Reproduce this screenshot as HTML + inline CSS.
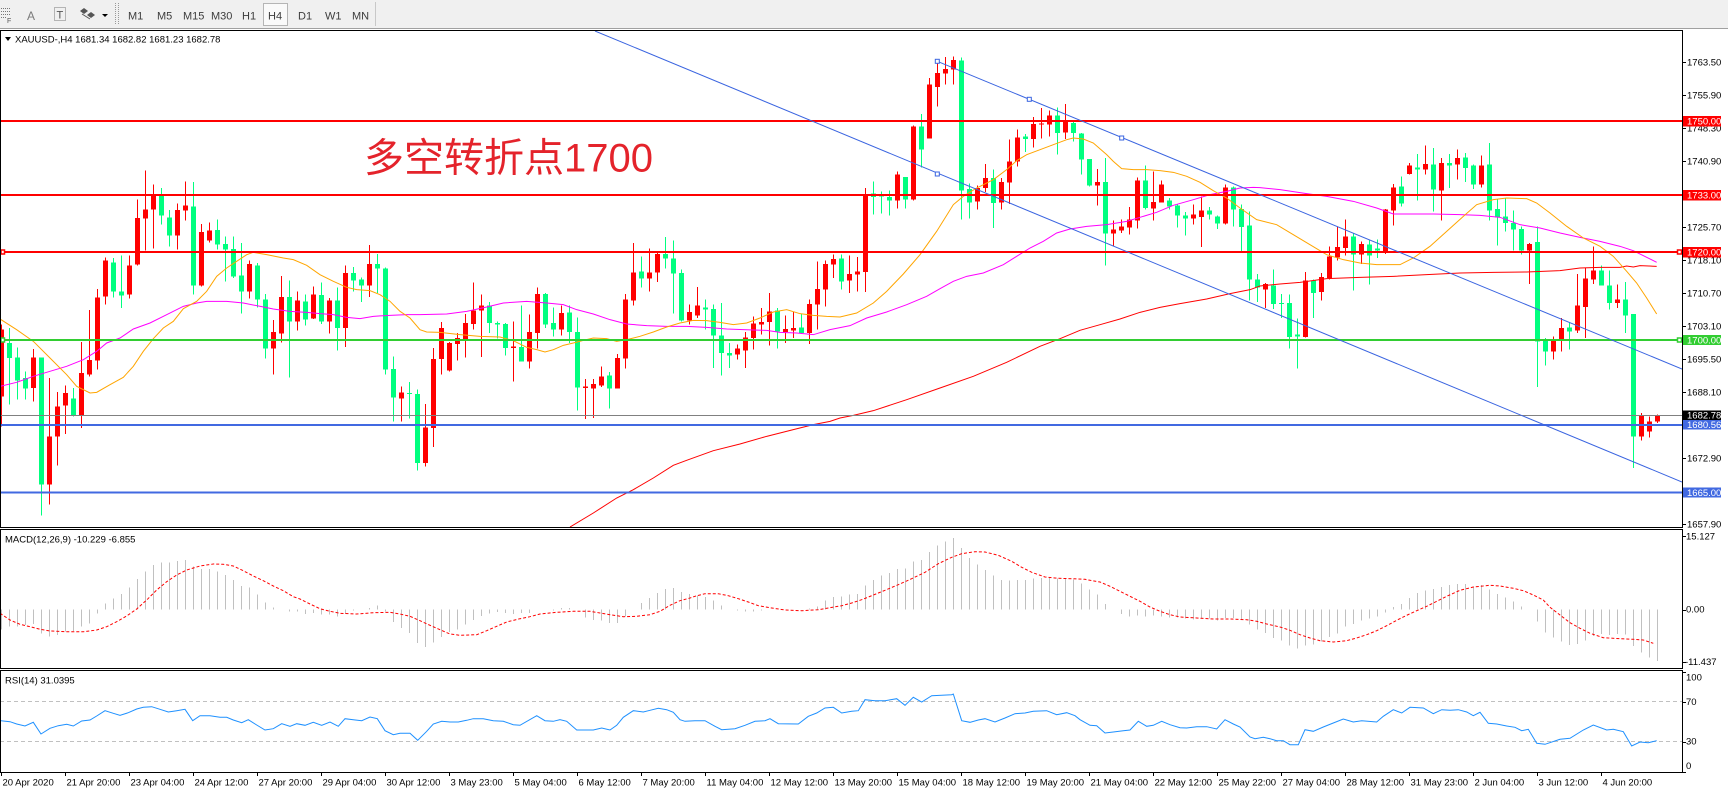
<!DOCTYPE html>
<html><head><meta charset="utf-8">
<style>
html,body{margin:0;padding:0;width:1728px;height:792px;overflow:hidden;background:#fff;}
svg{display:block;}
text{font-family:"Liberation Sans","Noto Sans CJK SC",sans-serif;}
.ax{font-size:9.5px;fill:#000;}
.bx{font-size:9.5px;fill:#fff;}
.tf{font-size:11px;fill:#3c3c3c;}
</style></head><body>
<svg id="s" width="1728" height="792" viewBox="0 0 1728 792" xmlns="http://www.w3.org/2000/svg">
<defs>
<clipPath id="cm"><rect x="1" y="31" width="1681" height="496"/></clipPath>
<clipPath id="cd"><rect x="1" y="530" width="1681" height="138"/></clipPath>
<clipPath id="cr"><rect x="1" y="671" width="1681" height="101"/></clipPath>
</defs>
<rect x="0" y="0" width="1728" height="792" fill="#fff"/>
<!-- toolbar -->
<rect x="0" y="0" width="1728" height="28" fill="#f0f0f0"/>
<line x1="0" y1="28.5" x2="1728" y2="28.5" stroke="#a0a0a0"/>
<g stroke="#777" stroke-width="1" stroke-dasharray="1,1">
<line x1="1" y1="8.5" x2="11" y2="8.5"/><line x1="1" y1="11.5" x2="11" y2="11.5"/><line x1="1" y1="14.5" x2="11" y2="14.5"/><line x1="1" y1="17.5" x2="6" y2="17.5"/>
<rect x="54.5" y="7.5" width="11" height="13" fill="none"/>
</g>
<text x="7" y="23" style="font-size:7px;fill:#555">F</text>
<text x="27" y="20" style="font-size:12px;fill:#7a7a7a">A</text>
<text x="56.5" y="18.5" style="font-size:11px;fill:#555">T</text>
<polygon points="84,8 88,11 84,14 80,11" fill="#555"/>
<polygon points="91,12 95,15 91,18 87,15" fill="#555"/>
<line x1="82" y1="14" x2="90" y2="19" stroke="#555"/>
<polygon points="102,14 108,14 105,17" fill="#000"/>
<g stroke="#999" stroke-dasharray="1,1"><line x1="115.5" y1="3" x2="115.5" y2="25"/><line x1="118.5" y1="3" x2="118.5" y2="25"/></g>
<rect x="263.5" y="3.5" width="24" height="22" fill="#fafafa" stroke="#b5b5b5"/>
<text class="tf" x="128" y="19.5">M1</text>
<text class="tf" x="157" y="19.5">M5</text>
<text class="tf" x="183" y="19.5">M15</text>
<text class="tf" x="211" y="19.5">M30</text>
<text class="tf" x="242" y="19.5">H1</text>
<text class="tf" x="268" y="19.5">H4</text>
<text class="tf" x="298" y="19.5">D1</text>
<text class="tf" x="325" y="19.5">W1</text>
<text class="tf" x="352" y="19.5">MN</text>
<line x1="375.5" y1="2" x2="375.5" y2="26" stroke="#c8c8c8"/>

<!-- chart groups -->
<g id="gm" clip-path="url(#cm)"></g>
<g id="gd" clip-path="url(#cd)"></g>
<g id="gr" clip-path="url(#cr)"></g>

<!-- frames -->
<g fill="none" stroke="#000" stroke-width="1" shape-rendering="crispEdges">
<rect x="0.5" y="30.5" width="1682" height="497"/>
<rect x="0.5" y="529.5" width="1682" height="139"/>
<rect x="0.5" y="670.5" width="1682" height="102"/>
</g>

<!-- title -->
<polygon points="5,37 11,37 8,41" fill="#000"/>
<text class="ax" x="15" y="42.5">XAUUSD-,H4  1681.34 1682.82 1681.23 1682.78</text>
<text class="ax" x="5" y="542.5">MACD(12,26,9) -10.229 -6.855</text>
<text class="ax" x="5" y="683.5">RSI(14) 31.0395</text>

<!-- big label -->
<text x="364" y="171.5" style="font-size:40px;fill:#e4232b;font-family:'Liberation Sans','Noto Sans CJK SC',sans-serif;">多空转折点1700</text>

<!-- price axis -->
<g id="ticks" stroke="#000" stroke-width="1"></g>
<text class="ax" x="1687" y="65.6">1763.50</text>
<text class="ax" x="1687" y="98.6">1755.90</text>
<text class="ax" x="1687" y="131.3">1748.30</text>
<text class="ax" x="1687" y="164.6">1740.90</text>
<text class="ax" x="1687" y="230.6">1725.70</text>
<text class="ax" x="1687" y="263.6">1718.10</text>
<text class="ax" x="1687" y="296.6">1710.70</text>
<text class="ax" x="1687" y="329.3">1703.10</text>
<text class="ax" x="1687" y="362.6">1695.50</text>
<text class="ax" x="1687" y="395.6">1688.10</text>
<text class="ax" x="1687" y="461.6">1672.90</text>
<text class="ax" x="1687" y="527.6">1657.90</text>

<rect x="1683" y="116" width="38" height="10.5" fill="#ff0000"/><text class="bx" x="1687" y="124.6">1750.00</text>
<rect x="1683" y="190" width="38" height="10.5" fill="#ff0000"/><text class="bx" x="1687" y="198.6">1733.00</text>
<rect x="1683" y="247" width="38" height="10.5" fill="#ff0000"/><text class="bx" x="1687" y="255.6">1720.00</text>
<rect x="1683" y="335" width="38" height="10" fill="#32cd32"/><text class="bx" x="1687" y="343.5">1700.00</text>
<rect x="1683" y="410.5" width="38" height="9.5" fill="#000"/><text class="bx" x="1687" y="418.6">1682.78</text>
<rect x="1683" y="420" width="38" height="9.5" fill="#4169e1"/><text class="bx" x="1687" y="428.2">1680.56</text>
<rect x="1683" y="487.5" width="38" height="10" fill="#4169e1"/><text class="bx" x="1687" y="495.8">1665.00</text>

<text class="ax" x="1686" y="539.5">15.127</text>
<text class="ax" x="1686" y="612.5">0.00</text>
<text class="ax" x="1685" y="665">-11.437</text>
<text class="ax" x="1686" y="680.5">100</text>
<text class="ax" x="1686" y="705">70</text>
<text class="ax" x="1686" y="744.5">30</text>
<text class="ax" x="1686" y="769">0</text>

<!-- time axis -->
<g id="tt" stroke="#000" stroke-width="1"></g>
<g class="ax">
<text class="ax" x="2.5" y="785.5">20 Apr 2020</text>
<text class="ax" x="66.5" y="785.5">21 Apr 20:00</text>
<text class="ax" x="130.5" y="785.5">23 Apr 04:00</text>
<text class="ax" x="194.5" y="785.5">24 Apr 12:00</text>
<text class="ax" x="258.5" y="785.5">27 Apr 20:00</text>
<text class="ax" x="322.5" y="785.5">29 Apr 04:00</text>
<text class="ax" x="386.5" y="785.5">30 Apr 12:00</text>
<text class="ax" x="450.5" y="785.5">3 May 23:00</text>
<text class="ax" x="514.5" y="785.5">5 May 04:00</text>
<text class="ax" x="578.5" y="785.5">6 May 12:00</text>
<text class="ax" x="642.5" y="785.5">7 May 20:00</text>
<text class="ax" x="706.5" y="785.5">11 May 04:00</text>
<text class="ax" x="770.5" y="785.5">12 May 12:00</text>
<text class="ax" x="834.5" y="785.5">13 May 20:00</text>
<text class="ax" x="898.5" y="785.5">15 May 04:00</text>
<text class="ax" x="962.5" y="785.5">18 May 12:00</text>
<text class="ax" x="1026.5" y="785.5">19 May 20:00</text>
<text class="ax" x="1090.5" y="785.5">21 May 04:00</text>
<text class="ax" x="1154.5" y="785.5">22 May 12:00</text>
<text class="ax" x="1218.5" y="785.5">25 May 22:00</text>
<text class="ax" x="1282.5" y="785.5">27 May 04:00</text>
<text class="ax" x="1346.5" y="785.5">28 May 12:00</text>
<text class="ax" x="1410.5" y="785.5">31 May 23:00</text>
<text class="ax" x="1474.5" y="785.5">2 Jun 04:00</text>
<text class="ax" x="1538.5" y="785.5">3 Jun 12:00</text>
<text class="ax" x="1602.5" y="785.5">4 Jun 20:00</text>
</g>
</svg>
<script>
(function(){
var NS='http://www.w3.org/2000/svg';
function el(p,t,a){var e=document.createElementNS(NS,t);for(var k in a)e.setAttribute(k,a[k]);p.appendChild(e);return e;}
var gm=document.getElementById('gm'),gd=document.getElementById('gd'),gr=document.getElementById('gr');
function poly(p,pts,color,w,dash){var a={points:pts.map(function(q){return q[0].toFixed(2)+','+q[1].toFixed(2);}).join(' '),fill:'none',stroke:color,'stroke-width':w||1};if(dash)a['stroke-dasharray']=dash;return el(p,'polyline',a);}
function zp(segs){var o=[];segs.forEach(function(s){s[1].forEach(function(q){o.push([s[0]+q[0]/3,28+q[1]/3]);});});return o;}

// MAs
var orange=zp([[0,[[0,873],[50,905],[100,940],[150,990],[200,1040],[230,1075],[270,1095],[290,1093],[330,1070],[370,1048],[400,1015],[430,970],[460,932],[490,900],[520,880],[550,842],[590,820],[620,790],[650,745],[680,720],[710,700],[740,680],[760,673],[800,680],[850,690],[880,695],[920,712],[960,740],[1000,760],[1040,778],[1070,785],[1110,788],[1140,800],[1170,820],[1200,850],[1230,870],[1260,905]]],
[420,[[20,912],[60,913],[120,920],[180,925],[240,927],[280,938],[320,958],[350,965],[375,972],[400,965],[430,952],[460,945],[490,937],[520,930],[560,932],[590,940],[620,935],[660,925],[700,912],[740,897],[780,885],[820,877],[860,878],[900,883],[940,890],[980,885],[1020,870],[1060,852],[1100,845],[1140,857],[1180,862],[1220,865],[1260,867]]],
[840,[[50,855],[100,825],[140,790],[190,738],[240,680],[290,610],[340,530],[370,505],[410,480],[460,455],[500,425],[530,398],[560,380],[600,365],[640,350],[680,335],[700,330],[730,333],[760,345],[800,380],[820,400],[845,422],[880,425],[920,425],[960,428],[1000,433],[1040,445],[1080,463],[1120,488],[1160,510],[1200,540],[1250,575]]],
[1260,[[50,590],[100,620],[150,650],[200,680],[250,695],[300,705],[350,710],[420,710],[460,690],[510,655],[560,610],[610,565],[650,530],[700,515],[740,510],[800,512],[830,525],[870,555],[920,595],[970,630],[1020,655],[1060,685],[1100,730],[1130,765],[1160,810],[1190,858]]]]);
var magenta=zp([[0,[[0,1075],[50,1063],[100,1045],[150,1030],[200,1015],[250,995],[290,970],[320,945],[360,930],[400,903],[450,885],[500,860],[550,835],[590,825],[620,820],[680,820],[730,825],[770,833],[820,843],[870,850],[920,853],[960,857],[1000,860],[1040,868],[1080,872],[1120,865],[1170,862],[1220,860],[1260,860]]],
[420,[[80,858],[140,850],[200,837],[250,825],[320,820],[380,825],[430,830],[470,845],[520,858],[570,875],[620,888],[680,893],[740,895],[800,895],[860,898],[920,903],[1000,906],[1040,907],[1080,913],[1130,915],[1180,920],[1230,905],[1260,899]]],
[840,[[30,893],[80,870],[140,852],[200,830],[260,805],[300,782],[340,760],[380,745],[430,735],[490,710],[530,685],[570,660],[610,640],[650,615],[690,603],[740,595],[800,590],[860,580],[900,568],[950,553],[1000,532],[1060,515],[1110,500],[1160,490],[1200,480],[1240,478],[1260,479]]],
[1260,[[60,485],[140,497],[200,505],[280,520],[350,540],[400,558],[460,558],[520,558],[600,560],[660,562],[720,568],[780,590],[840,600],[900,615],[960,628],[1020,640],[1080,655],[1120,668],[1160,688],[1190,703]]]]);
var redma=zp([[420,[[450,1497],[520,1455],[590,1410],[640,1385],[700,1350],[760,1312],[800,1297],[880,1268],[960,1248],[1040,1225],[1120,1205],[1180,1190],[1230,1180],[1260,1170]]],
[840,[[40,1162],[100,1148],[200,1115],[300,1080],[400,1045],[500,1003],[600,955],[660,932],[720,907],[780,890],[840,873],[900,853],[960,838],[1020,827],[1100,813],[1170,797],[1230,785],[1260,774]]],
[1260,[[60,768],[120,763],[200,752],[300,748],[400,745],[500,740],[600,735],[700,733],[800,732],[900,728],[960,720],[1020,718],[1080,718],[1100,714],[1120,717],[1140,713],[1190,715]]]]);

// candles
var C="r 890 905 1105 1195|g 900 945 990 1130|g 958 988 1058 1115|g 1030 1050 1082 1115|r 963 988 1080 1120|g 988 988 1370 1462|r 1050 1225 1370 1430|r 1092 1135 1225 1312|r 1072 1095 1133 1218|g 1080 1112 1162 1165|r 942 1035 1162 1200|r 846 996 1040 1045|r 783 808 998 1025|r 688 697 806 830|g 690 703 790 808|g 682 790 802 840|r 682 712 800 812|r 515 570 710 712|r 427 544 572 668|r 470 500 545 662|g 480 503 562 590|g 546 568 623 656|r 527 546 622 664|r 460 532 548 578|g 462 535 773 800|r 588 612 773 776|r 584 607 638 643|g 574 606 650 665|g 625 648 665 760|g 625 663 745 750|g 645 742 790 857|r 698 708 790 812|g 705 712 815 838|g 798 815 962 992|r 876 912 962 1040|r 744 807 917 943|g 757 807 880 1048|r 790 817 880 907|g 800 820 875 893|r 775 800 872 873|g 763 801 880 888|r 810 817 880 917|g 778 817 900 967|r 712 735 900 957|g 717 735 758 790|g 748 755 773 822|r 651 708 773 807|g 678 708 722 795|g 718 722 1025 1040|g 985 1023 1108 1180|r 1075 1093 1112 1180|g 1062 1095 1098 1172|g 1085 1098 1305 1328|r 1128 1198 1305 1316|r 960 993 1200 1257|r 882 900 993 1040|r 942 945 1027 1030|r 915 930 948 998|r 858 885 935 988|r 763 847 888 905|r 800 832 848 987|g 822 833 885 915|g 880 885 890 932|g 885 888 960 983|r 880 956 960 1060|g 832 957 1000 1000|r 860 912 1000 1022|r 778 798 915 962|g 795 798 890 900|g 838 885 905 925|r 832 855 905 922|g 832 853 912 945|g 868 912 1078 1147|r 1053 1075 1080 1173|r 1053 1068 1082 1170|r 1015 1045 1073 1077|g 1032 1042 1082 1142|r 978 990 1082 1082|r 798 815 992 1022|r 645 733 817 832|g 685 730 752 778|r 662 733 752 790|r 675 678 733 762|g 627 678 692 722|g 638 692 737 857|g 725 735 877 880|r 830 852 878 890|r 777 833 862 870|g 815 838 845 905|g 830 843 922 1020|g 825 922 975 1042|g 945 975 983 1020|r 950 962 980 995|r 912 928 968 1020|r 865 887 930 965|r 840 882 890 920|r 795 850 882 952|g 840 848 910 962|r 862 903 912 945|r 850 900 908 930|g 858 898 915 918|r 815 828 915 948|r 700 783 830 905|r 697 708 785 835|r 680 693 710 750|g 680 692 760 785|r 682 738 758 795|r 687 730 740 790|r 480 500 732 792|g 460 497 507 560|g 490 502 506 557|g 487 507 518 563|r 430 440 518 542|g 447 447 515 542|r 292 296 515 518|g 258 296 365 418|r 150 170 332 332|r 100 135 177 236|r 87 123 137 170|r 85 96 125 170|g 88 98 488 575|g 467 483 523 572|r 473 480 520 545|r 408 450 480 492|g 425 450 525 600|r 450 462 523 545|r 335 400 463 528|r 305 328 400 415|g 318 326 333 372|r 267 288 333 358|r 240 287 289 332|r 248 262 290 325|g 238 262 315 380|r 228 278 313 333|g 280 285 315 340|g 315 317 395 440|g 393 393 473 475|r 423 462 472 533|g 390 462 617 713|r 577 605 617 655|r 575 595 608 615|r 537 575 598 620|r 448 458 577 602|g 413 458 540 545|r 430 522 542 578|r 457 470 523 523|g 510 518 535 545|g 530 533 563 598|g 552 563 572 623|r 530 560 572 590|r 505 548 567 657|g 537 548 560 575|g 562 565 587 603|r 470 478 587 590|g 475 478 545 595|g 530 543 597 670|g 550 592 755 818|g 738 755 778 822|r 765 768 785 840|g 725 772 828 843|g 798 825 828 870|g 800 825 927 962|g 872 920 925 1022|r 732 757 927 928|g 755 757 795 870|r 735 747 792 818|r 655 686 750 755|r 595 657 688 698|r 575 625 660 683|g 615 625 680 788|r 640 648 680 708|g 635 650 682 770|g 635 662 667 690|r 543 545 670 678|r 468 478 548 593|g 445 475 527 535|r 405 413 438 440|g 378 418 425 518|r 353 408 425 440|g 360 410 485 550|r 390 405 488 578|g 378 405 412 480|r 365 390 410 455|g 375 388 420 462|g 410 413 470 483|r 383 413 470 478|g 345 410 548 578|g 515 543 568 652|g 512 565 585 610|g 548 585 605 668|g 595 603 668 680|r 645 648 668 768|g 595 642 940 1077|g 930 935 970 1012|r 925 937 970 995|r 870 900 938 970|g 885 898 910 965|r 738 833 908 915|r 720 752 837 930|r 655 728 755 768|g 713 727 772 773|g 727 772 825 845|r 770 815 825 840|g 762 815 862 915|g 858 858 1225 1320|r 1155 1163 1225 1237|r 1165 1180 1210 1228|r 1160 1163 1180 1185";
var cg=el(gm,'g',{'shape-rendering':'crispEdges'});
C.split('|').forEach(function(s,i){
  var p=s.trim().split(/\s+/);var col=p[0]=='r'?'#ff0000':'#00ff7f';
  var Y=function(v){return 28+parseFloat(v)/3;};
  var x=1+8*i,h=Y(p[1]),t=Y(p[2]),b=Y(p[3]),l=Y(p[4]);
  el(cg,'rect',{x:x,y:h.toFixed(2),width:1,height:Math.max(l-h,1).toFixed(2),fill:col});
  if(b-t<1)b=t+1;
  el(cg,'rect',{x:x-2,y:t.toFixed(2),width:5,height:(b-t).toFixed(2),fill:col});
});

poly(gm,redma,'#ff0000',1);
poly(gm,magenta,'#ff00ff',1);
poly(gm,orange,'#ffa500',1);

// horizontal lines
var hl=el(gm,'g',{'shape-rendering':'crispEdges'});
el(hl,'rect',{x:0,y:414.8,width:1682,height:1,fill:'#808080'});
[[121,'#ff0000'],[195,'#ff0000'],[252,'#ff0000'],[340,'#32cd32'],[425,'#4169e1'],[492.7,'#4169e1']].forEach(function(a){
  el(hl,'rect',{x:0,y:a[0]-1,width:1682,height:2,fill:a[1]});
});
// trendlines
el(gm,'line',{x1:595,y1:31,x2:1682,y2:482,stroke:'#3a64e0','stroke-width':1});
el(gm,'line',{x1:937.3,y1:61.3,x2:1682,y2:369,stroke:'#3a64e0','stroke-width':1});
[[937.3,61.3],[1029.3,99.3],[1121.7,138],[937.3,174]].forEach(function(q){
  el(gm,'rect',{x:q[0]-2,y:q[1]-2,width:4,height:4,fill:'#fff',stroke:'#3a64e0','stroke-width':1});
});
// end markers
[[252,'#ff0000'],[340,'#32cd32']].forEach(function(a){
  el(gm,'rect',{x:1677.5,y:a[0]-2,width:4,height:4,fill:'#fff',stroke:a[1],'stroke-width':1.5});
  el(gm,'rect',{x:1,y:a[0]-2,width:3.5,height:4,fill:'#fff',stroke:a[1],'stroke-width':1.5});
});

// MACD
var M=[629.3,626.7,626.7,625,624,633.3,636.7,635,631.7,631,626.7,623.3,613.3,603.3,598.3,594,587.7,579,571.7,565,562.3,562.3,561,560,566.7,569,569,571.7,575,580,586,587.3,594.3,602.7,607.3,609,611.7,
611.3,614,613,614.7,614.7,616.3,614,610.7,609,608,605.7,611.3,622,628,633,643,647,642.3,637,632,629.7,624.7,620,616,613.7,612,613,614,613,613,609,609.7,610.7,608,608,609.7,617.3,620,620.7,623,623,616.3,609,603,598,593,589,588,592,594,
595.7,597,600.7,605.7,609.7,610.7,611.3,611.3,610.3,609.7,609.7,609.7,609.7,609,608.7,606.3,600.7,597,596.3,594.7,594,585.7,580,575.7,573,569,568.7,561.7,560,552,545.7,541.3,538,548,558,564.7,570,575.7,580,580.7,580,580,578.7,578,578,578.7,578.7,579.7,583.7,
589.7,594.7,604,609.7,614,616.7,615.3,616.7,615.3,616.3,617.3,617.3,618.7,619.7,618,618.7,620.7,618,618,619.7,624.7,629.7,633,638,640.7,645.7,648.7,645.7,644.7,641.3,637,633.3,626.7,624,620.7,618.7,616.7,612.7,607,604,598,593,590.3,589,587,585,584,584,586.3,
585,589.3,594,597.7,601.7,606.7,609,621.7,632.7,637.7,641.7,645,644,640.7,636,634,635,634,634.3,646,652.7,657.7,661];
var y0=609.5;var mg=el(gd,'g',{'shape-rendering':'crispEdges'});
M.forEach(function(v,i){var x=1+8*i;if(Math.abs(v-y0)<0.7)return;el(mg,'rect',{x:x,y:Math.min(v,y0).toFixed(2),width:1,height:Math.abs(v-y0).toFixed(2),fill:'#c0c0c0'});});
var SIG=[[0,613.3],[10,620],[20,624.3],[30,626.7],[40,629.3],[50,631],[66.7,631.7],[83.3,631.7],[96.7,630],[106.7,626.7],[116.7,621.7],[126.7,616],[136.7,609],[146.7,600],[156.7,590],[166.7,581.7],[176.7,575],[186.7,570],[200,566],[213.3,564],[223.3,564.3],[233.3,566],[243.3,570.7],[253.3,576],[263.3,580.7],[273.3,586],[283.3,590.7],[293.3,596.7],[300,599],[310,604],[320,608.7],[330,611.3],[340,613.3],[356.7,614],[373.3,612.7],[390,612.3],[400,614],[410,616.3],[420,620.7],[430,625.3],[440,629.7],[450,634],[460,635.3],[476.7,634.7],[486.7,630.7],[496.7,626.3],[506.7,622],[520,618.7],[530,616.7],[540,614],[556.7,612.3],[573.3,611.3],[590,611.3],[600,613],[610,614.7],[623.3,616.7],[636.7,616.3],[650,614.7],[660,611.3],[670,605.3],[680,600.7],[690,598],[695,596.3],[705,593.7],[718.3,593.7],[728.3,595.7],[738.3,598.7],[748.3,602],[758.3,605.7],[771.7,608],[785,610],[801.7,610.7],[818.3,609.7],[828.3,608],[841.7,605.7],[851.7,603],[861.7,599.7],[871.7,595.7],[885,590.3],[898.3,584.7],[911.7,578.7],[925,572.3],[938.3,563.7],[951.7,557.3],[961.7,553.7],[975,551.7],[985,552],[998.3,555.3],[1011.7,561.3],[1021.7,567.3],[1031.7,572.3],[1045,577],[1058.3,578.3],[1071.7,578.7],[1085,579.3],[1090,580.3],[1100,582],[1110,586.3],[1120,591.3],[1130,596.3],[1140,601.3],[1150,607],[1160,611.3],[1170,614.7],[1180,617],[1196.7,618],[1213.3,619],[1230,619],[1246.7,619.7],[1256.7,621.3],[1266.7,624],[1280,627],[1290,630.3],[1300,634.7],[1310,638],[1320,640.7],[1333.3,642],[1346.7,640.7],[1356.7,638],[1366.7,634.7],[1376.7,630.7],[1386.7,625.7],[1396.7,620.3],[1406.7,615.3],[1416.7,610.7],[1426.7,606.3],[1436.7,601.3],[1446.7,596.3],[1460,590.3],[1473.3,587],[1490,585.3],[1500,586],[1513.3,588.3],[1523.3,590.7],[1533.3,595],[1543.3,600],[1550,607.3],[1560,615],[1570,622.7],[1580,628.3],[1590,633.3],[1603.3,637.7],[1620,638.7],[1633.3,639.3],[1643.3,640],[1653.3,643.3]];
poly(gd,SIG,'#ff0000',1,'3,2');

// RSI
var rg=el(gr,'g',{'shape-rendering':'crispEdges'});
el(rg,'line',{x1:0,y1:701.5,x2:1682,y2:701.5,stroke:'#c0c0c0','stroke-dasharray':'4,3'});
el(rg,'line',{x1:0,y1:741.5,x2:1682,y2:741.5,stroke:'#c0c0c0','stroke-dasharray':'4,3'});
var R=[[0,720.7],[10,721.7],[16.7,724],[25,726],[33.3,722.3],[41,734],[50,728.3],[58.3,725.7],[66.7,724.3],[73.3,726],[81.7,721],[90,720],[96.7,716],[105,710.7],[113.3,713.3],[120,715.3],[128.3,712.7],[136.7,709],[143.3,707.3],[151.7,706.7],[160,709.3],[168.3,712],[176.7,710.7],[185,709.3],[192.7,720.7],[200,715.7],[210,715.7],[220,717.3],[226.7,717.3],[233.3,720],[241.7,722.7],[248.3,719.7],[256.7,725],[265,730],[273.3,728.7],[281.7,723.7],[290,726.3],[296.7,723.7],[305,725.3],[313.3,722.3],[321.7,725.3],[330,722],[338.3,726.3],[345,718.7],[353.3,719.7],[361.7,720.7],[370,717],[377.3,718.7],[385,730.7],[393.3,734.7],[400,733.3],[410,733.3],[417.7,740.3],[426.7,731.3],[433.3,724],[441.7,721.3],[450,722],[458.3,722],[466.7,720.3],[473.3,718.7],[483.3,718.7],[493.3,720.7],[503.3,721.3],[513.3,724.7],[520,725.3],[536.7,715.7],[545,720.7],[553.3,721.3],[560,719.7],[566.7,721.3],[576.7,730],[593.3,730],[601.7,728],[610,730],[616.7,725.3],[623.3,717.3],[633.3,710.7],[643.3,712],[650,710.3],[658.3,708.3],[666.7,709.7],[673.3,712.3],[680,719.7],[685,721.3],[695,720.7],[705,720.7],[715,726.3],[721.7,729.7],[735,728.7],[745,725.3],[755,721.3],[765,720.7],[770,718.7],[778.3,723.7],[798.3,724],[808.3,716.3],[816.7,713],[825,708],[833.3,707.3],[841.7,713],[851.7,711.3],[858.3,710.7],[865,699.7],[875,700.7],[885,700.7],[896.7,698.7],[905,705.3],[913.3,697.3],[921.7,702],[931.7,695.7],[951.7,694.7],[953.3,694],[961.7,720.7],[970,722.3],[978.3,720],[985,718.7],[995,722],[1005,718],[1015,713.7],[1025,713],[1033.3,711.3],[1046.7,710.7],[1056.7,714.7],[1066.7,712.7],[1075,715.7],[1080,719.7],[1090,725.3],[1096.7,725.7],[1105,733],[1113.3,732],[1123.3,730.7],[1130,730],[1138.3,721.3],[1146.7,726.3],[1153.3,725.3],[1161.7,721.3],[1170,724.7],[1180,727.7],[1186.7,728],[1196.7,726.7],[1206.7,726.7],[1216.7,729],[1225,719.7],[1233.3,724],[1240,727],[1250,737],[1255,738.7],[1263.3,737.3],[1270,738.7],[1276.7,740.7],[1283.3,740.7],[1290,744.7],[1298.3,744.7],[1305,729.7],[1313.3,731.3],[1323.3,727],[1333.3,723],[1343.3,719],[1353.3,722],[1361.7,720.7],[1376.7,722],[1383.3,716.3],[1393.3,709.7],[1401.7,713],[1410,707.3],[1423.3,708],[1433.3,713.7],[1441.7,709.7],[1450,710.3],[1458.3,709.7],[1466.7,712],[1473.3,715.7],[1480,712.3],[1488.3,723.3],[1496.7,724],[1506.7,726],[1515,727.3],[1521.7,730.7],[1528.3,729.3],[1536.7,743.3],[1545,744.3],[1560,739.3],[1570,738.3],[1583.3,730],[1593.3,725],[1606.7,730],[1613.3,729.3],[1623.3,731.7],[1631.7,746],[1640,742],[1648.3,742.7],[1656.7,740.7]];
poly(gr,R,'#1e90ff',1);

// price ticks
var tk=document.getElementById('ticks');
[62.3,95.3,128,161.3,194.7,227.3,260.3,293.3,326,359.3,392.3,425,458.3,491.3,524.3,536,609.5,662,671.5,701.5,741.5,771.5].forEach(function(y){el(tk,'line',{x1:1682,y1:Math.round(y)+0.5,x2:1686,y2:Math.round(y)+0.5});});
// time ticks
var tt=document.getElementById('tt');
for(var k=0;k<26;k++){var x=1+64*k+0.5;el(tt,'line',{x1:x,y1:772,x2:x,y2:776});}
})();
</script>
</body></html>
